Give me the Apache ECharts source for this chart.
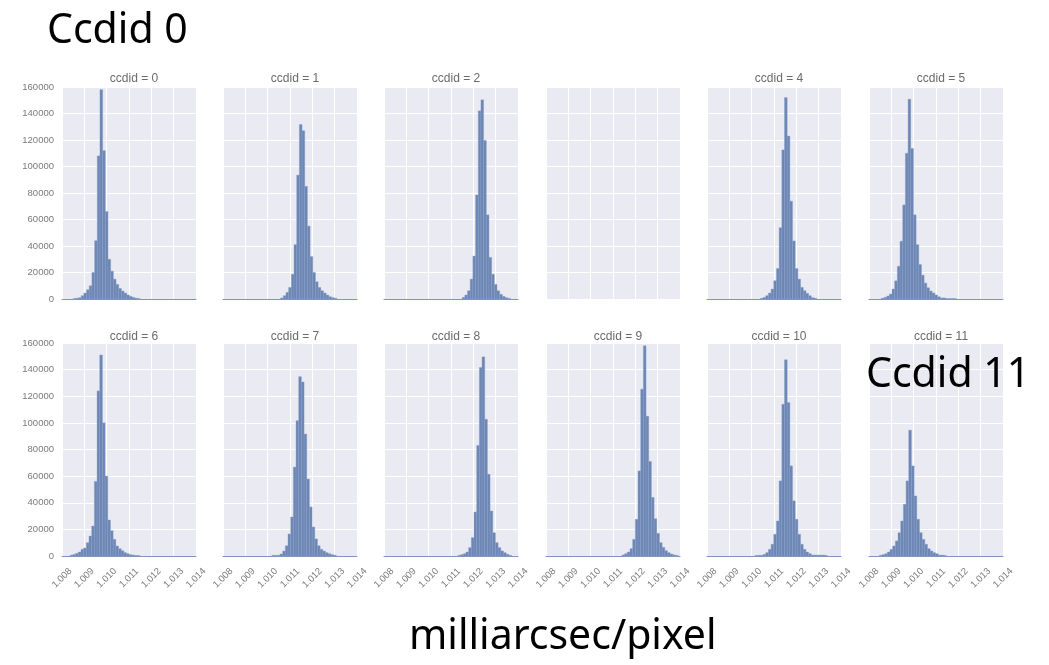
<!DOCTYPE html>
<html>
<head>
<meta charset="utf-8">
<script src="https://cdn.jsdelivr.net/npm/echarts@6/dist/echarts.min.js"></script>
<style>
html,body{margin:0;padding:0;background:#fff;}
#chart{width:1049px;height:665px;}
</style>
</head>
<body>
<div id="chart"></div>
<script>
// ---- data ----
const panelIds = [0, 1, 2, 3, 4, 5, 6, 7, 8, 9, 10, 11];
const panelTitles = ['ccdid = 0', 'ccdid = 1', 'ccdid = 2', '', 'ccdid = 4', 'ccdid = 5',
                     'ccdid = 6', 'ccdid = 7', 'ccdid = 8', 'ccdid = 9', 'ccdid = 10', 'ccdid = 11'];
const xTicks = [1.008, 1.009, 1.010, 1.011, 1.012, 1.013, 1.014];
const yTicks = [0, 20000, 40000, 60000, 80000, 100000, 120000, 140000, 160000];
const binWidth = 0.00012;
// first bin edge of each panel's histogram (null = no data)
const binStart = [1.00850, 1.01058, 1.01150, null, 1.01039, 1.00855,
                  1.00837, 1.01019, 1.01131, 1.01140, 1.01015, 1.00846];
const counts0 = [300, 600, 1000, 2500, 4500, 7000, 10000, 20000, 44000, 108000, 158000, 112000, 66000, 30000, 21000, 15000, 11000, 8000, 6000, 4500, 3000, 2000, 1200, 600, 300];
const counts1 = [800, 2500, 5000, 8700, 18700, 41000, 93500, 131700, 127000, 85000, 55000, 32000, 20000, 13000, 8700, 6200, 4500, 3000, 1700, 1000, 500];
const counts2 = [1200, 3000, 6200, 15000, 32400, 78500, 142000, 150300, 119600, 63500, 31400, 18700, 11000, 6200, 3500, 2000, 1000, 500];
const counts3 = [];
const counts4 = [500, 1200, 2500, 4500, 7500, 13800, 23000, 53800, 112500, 152000, 123000, 73800, 43800, 23000, 15000, 8800, 6300, 4300, 2500, 1000, 500];
const counts5 = [600, 1200, 2200, 3700, 7500, 13700, 24700, 43600, 71000, 110000, 150800, 113600, 63500, 41000, 26000, 18000, 12000, 8500, 6000, 4500, 3000, 1700, 800, 800, 300, 300, 300, 300];
const counts6 = [700, 1200, 2000, 3000, 5000, 6000, 10000, 15000, 22500, 56000, 124000, 151000, 100000, 60000, 27000, 19000, 12500, 7500, 5500, 4000, 2500, 1700, 1000, 700, 400, 300];
const counts7 = [500, 500, 500, 1500, 3700, 7700, 16500, 29300, 66800, 101600, 134700, 130700, 91600, 57800, 36800, 21800, 12800, 7700, 5000, 3700, 2500, 1700, 1000, 600];
const counts8 = [500, 1000, 1700, 3000, 6300, 13800, 33000, 83000, 141600, 149600, 102700, 61400, 33800, 17500, 10000, 6300, 3800, 2500, 1300, 500];
const counts9 = [800, 1700, 3000, 5500, 12500, 27600, 63900, 125300, 157900, 105000, 71000, 44000, 28000, 17000, 10000, 6500, 4000, 2500, 1500, 800, 400];
const counts10 = [400, 500, 500, 1200, 2500, 5000, 8800, 16300, 26300, 56400, 114000, 147400, 115300, 67700, 41400, 27600, 16300, 8800, 5000, 3000, 1800, 700, 700, 700, 700, 700, 400];
const counts11 = [500, 1000, 1700, 3000, 5000, 7500, 11300, 17500, 26300, 38800, 56400, 94500, 67700, 45100, 27600, 17500, 12500, 8800, 5500, 3800, 2500, 1700, 700, 700, 400];
const allCounts = [counts0, counts1, counts2, counts3, counts4, counts5,
                   counts6, counts7, counts8, counts9, counts10, counts11];
const bigLabels = ['Ccdid 0', 'Ccdid 11', 'milliarcsec/pixel'];

// ---- layout ----
const colLeft = [62, 223, 384, 546, 707, 869];
const panelW = 134;
const rowTop = [87, 343];
const rowH = [212, 213];
const titleOffset = [19, 17];

const chart = echarts.init(document.getElementById('chart'));
const grids = [], xAxes = [], yAxes = [], series = [], titles = [];

panelIds.forEach((id, i) => {
  const r = Math.floor(i / 6), c = i % 6;
  const hasData = allCounts[i].length > 0;
  grids.push({
    left: colLeft[c], top: rowTop[r], width: panelW, height: rowH[r],
    show: true, backgroundColor: '#EAEAF2', borderWidth: 0
  });
  xAxes.push({
    type: 'value', gridIndex: i, min: xTicks[0], max: xTicks[xTicks.length - 1], interval: 0.001,
    axisLine: { show: hasData, onZero: false, lineStyle: { color: '#7f95be', width: 1 } },
    axisTick: { show: false },
    splitLine: { show: true, lineStyle: { color: '#ffffff', width: 1 } },
    axisLabel: {
      show: r === 1, rotate: 45, fontSize: 9.5, color: '#7a7a7a', margin: 22,
      align: 'center', verticalAlign: 'middle',
      fontFamily: 'Liberation Sans, Arial, sans-serif',
      formatter: v => v.toFixed(3)
    }
  });
  yAxes.push({
    type: 'value', gridIndex: i, min: yTicks[0], max: yTicks[yTicks.length - 1], interval: 20000,
    axisLine: { show: false }, axisTick: { show: false },
    splitLine: { show: true, lineStyle: { color: '#ffffff', width: 1 } },
    axisLabel: {
      show: c === 0, fontSize: 9.5, color: '#7a7a7a', margin: 8,
      fontFamily: 'Liberation Sans, Arial, sans-serif',
      formatter: v => String(Math.round(v))
    }
  });
  if (panelTitles[i]) {
    titles.push({
      text: panelTitles[i],
      left: colLeft[c] + panelW / 2, top: rowTop[r] - titleOffset[r],
      textAlign: 'center',
      textStyle: { fontSize: 12, fontWeight: 'normal', color: '#6a6a6a', fontFamily: 'Liberation Sans, Arial, sans-serif' }
    });
  }
  if (hasData) {
    const data = allCounts[i].map((v, k) => [binStart[i] + k * binWidth, binStart[i] + (k + 1) * binWidth, v]);
    series.push({
      type: 'custom', xAxisIndex: i, yAxisIndex: i,
      encode: { x: [0, 1], y: 2 },
      data: data,
      renderItem: function (params, api) {
        const p0 = api.coord([api.value(0), 0]);
        const p1 = api.coord([api.value(1), api.value(2)]);
        return {
          type: 'rect',
          shape: { x: p0[0], y: p1[1], width: p1[0] - p0[0], height: p0[1] - p1[1] },
          style: { fill: '#6d86b4', stroke: '#86a0cb', lineWidth: 0.4 }
        };
      }
    });
  }
});

const bigFont = '41px "Noto Sans", "Open Sans", sans-serif';
chart.setOption({
  animation: false,
  backgroundColor: '#ffffff',
  title: titles,
  grid: grids,
  xAxis: xAxes,
  yAxis: yAxes,
  series: series,
  graphic: [
    { type: 'text', z: 100, zlevel: 1, left: 47, top: 11, style: { text: bigLabels[0], font: bigFont, fill: '#000' } },
    { type: 'text', z: 100, zlevel: 1, left: 866, top: 355, style: { text: bigLabels[1], font: bigFont, fill: '#000' } },
    { type: 'text', z: 100, zlevel: 1, left: 409, top: 617, style: { text: bigLabels[2], font: bigFont, fill: '#000' } }
  ]
});
</script>
</body>
</html>
